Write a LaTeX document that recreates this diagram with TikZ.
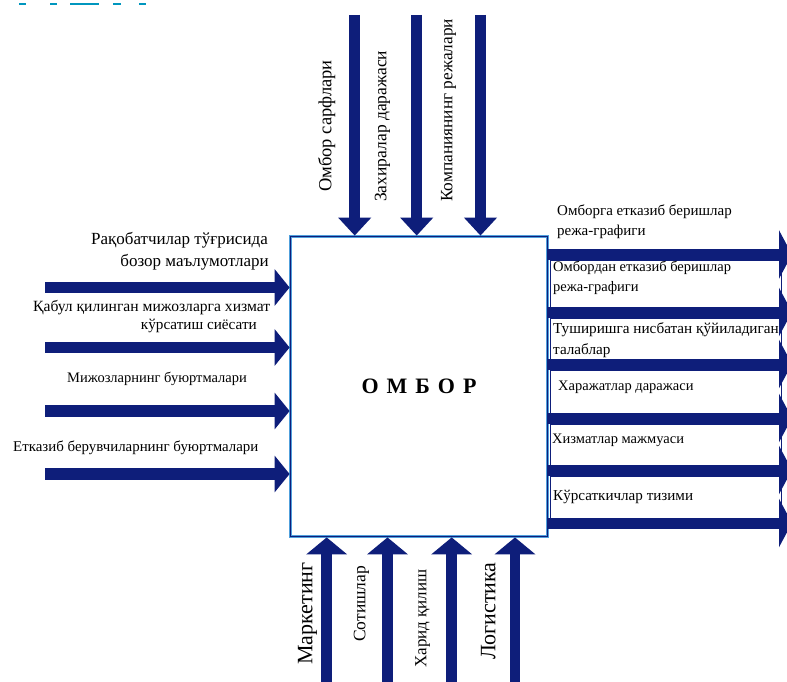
\documentclass[tikz,border=0pt]{standalone}
\usepackage{fontspec}
\setmainfont{Liberation Serif}
\usetikzlibrary{arrows.meta}
\definecolor{navyb}{RGB}{14,30,122}
\definecolor{halo}{RGB}{80,160,220}
\definecolor{cyanmark}{RGB}{0,150,190}
\tikzset{
  lbl/.style={inner sep=0pt, font=\fontsize{14.5}{17}\selectfont},
  fs/.style={font=\fontsize{#1}{17}\selectfont},
  vlbl/.style={inner sep=0pt, rotate=90, anchor=mid west},
  downarr/.style={line width=10.7pt, draw=navyb, -{Triangle[width=32pt,length=18pt]}},
  uparr/.style={line width=10.5pt, draw=navyb, -{Triangle[width=40pt,length=17pt]}},
  inarr/.style={line width=11.5pt, draw=navyb, -{Triangle[width=36pt,length=15pt]}},
  outarr/.style={line width=11pt, draw=navyb, -{Triangle[width=48pt,length=13pt]}},
  txtbox/.style={draw=navyb, line width=0.8pt, fill=white, inner sep=0pt, anchor=north west, minimum width=231pt},
}
\begin{document}
\begin{tikzpicture}[x=1pt,y=-1pt]
\useasboundingbox (0,0) rectangle (787,682);
\clip (0,0) rectangle (787,682);
\fill[white] (0,0) rectangle (787,682);

% cut-off marks at the top left
\fill[cyanmark] (19,3.3) rectangle (26,5);
\fill[cyanmark] (50,3.3) rectangle (57,5);
\fill[cyanmark] (70,3.3) rectangle (99,5);
\fill[cyanmark] (113,3.3) rectangle (121,5);
\fill[cyanmark] (139,3.3) rectangle (146,5);

% main box
\node[draw=navyb, line width=1.8pt, preaction={draw=halo, line width=3pt},
      minimum width=257pt, minimum height=300pt, inner sep=0pt,
      font=\bfseries\fontsize{22}{24}\selectfont] (omb) at (419,386.5)
      {О\hspace{8pt}М\hspace{8pt}Б\hspace{8pt}О\hspace{8pt}Р};

% top arrows
\coordinate (t1) at (354.7,15);
\coordinate (t2) at (416.7,15);
\coordinate (t3) at (480.5,15);
\draw[downarr] (t1) -- (t1 |- omb.north);
\draw[downarr] (t2) -- (t2 |- omb.north);
\draw[downarr] (t3) -- (t3 |- omb.north);
\node[vlbl, font=\fontsize{18.5}{20}\selectfont] (tl1) at (329,192) {Омбор сарфлари};
\node[vlbl, font=\fontsize{17.5}{20}\selectfont] (tl2) at (384,202) {Захиралар даражаси};
\node[vlbl, font=\fontsize{17.3}{20}\selectfont] (tl3) at (450,202) {Компаниянинг режалари};

% left arrows
\coordinate (i1) at (45,287.5);
\coordinate (i2) at (45,347.5);
\coordinate (i3) at (45,411);
\coordinate (i4) at (45,474);
\draw[inarr] (i1) -- (i1 -| omb.west);
\draw[inarr] (i2) -- (i2 -| omb.west);
\draw[inarr] (i3) -- (i3 -| omb.west);
\draw[inarr] (i4) -- (i4 -| omb.west);
\node[lbl, fs=17, anchor=mid east] (l1a) at (268,242) {Рақобатчилар тўғрисида};
\node[lbl, fs=17, anchor=mid east] (l1b) at (269,264) {бозор маълумотлари};
\node[lbl, fs=15.6, anchor=mid west] (l2a) at (33,309) {Қабул қилинган мижозларга хизмат};
\node[lbl, fs=15.2, anchor=mid east] (l2b) at (257,327) {кўрсатиш сиёсати};
\node[lbl, anchor=mid west] (l3) at (67,380) {Мижозларнинг буюртмалари};
\node[lbl, fs=14.9, anchor=mid west] (l4) at (13,449) {Етказиб берувчиларнинг буюртмалари};

% bottom arrows
\coordinate (u1) at (326.7,690);
\coordinate (u2) at (387.5,690);
\coordinate (u3) at (451.7,690);
\coordinate (u4) at (515,690);
\draw[uparr] (u1) -- (u1 |- omb.south);
\draw[uparr] (u2) -- (u2 |- omb.south);
\draw[uparr] (u3) -- (u3 |- omb.south);
\draw[uparr] (u4) -- (u4 |- omb.south);
\node[vlbl, font=\fontsize{22}{24}\selectfont] (bl1) at (310,665) {Маркетинг};
\node[vlbl, font=\fontsize{17.5}{20}\selectfont] (bl2) at (363,642) {Сотишлар};
\node[vlbl, font=\fontsize{17}{20}\selectfont] (bl3) at (424,668) {Харид қилиш};
\node[vlbl, font=\fontsize{22}{24}\selectfont] (bl4) at (493,660) {Логистика};

% right side: text boxes
\node[txtbox, minimum height=46.5pt] (b1) at (550,260) {};
\node[txtbox, minimum height=41pt] (b2) at (550,317.5) {};
\node[txtbox, minimum height=43pt] (b3) at (550,369.5) {};
\node[txtbox, minimum height=41pt] (b4) at (550,423.5) {};
\node[txtbox, minimum height=42pt] (b5) at (550,475.5) {};

% right arrows
\coordinate (r1) at (792,254.5);
\coordinate (r2) at (792,312);
\coordinate (r3) at (792,364);
\coordinate (r4) at (792,418);
\coordinate (r5) at (792,470);
\coordinate (r6) at (792,523);
\draw[outarr] (omb.east |- r1) -- (r1);
\draw[outarr] (omb.east |- r2) -- (r2);
\draw[outarr] (omb.east |- r3) -- (r3);
\draw[outarr] (omb.east |- r4) -- (r4);
\draw[outarr] (omb.east |- r5) -- (r5);
\draw[outarr] (omb.east |- r6) -- (r6);

% right labels
\node[lbl, fs=15, anchor=mid west] (o1a) at (557,213) {Омборга етказиб беришлар};
\node[lbl, fs=15, anchor=mid west] (o1b) at (557,233) {режа-графиги};
\node[lbl, fs=14.5, anchor=mid west] (o2a) at (553,269) {Омбордан етказиб беришлар};
\node[lbl, fs=14.5, anchor=mid west] (o2b) at (553,289) {режа-графиги};
\node[lbl, fs=15.2, anchor=mid west] (o3a) at (553,331.7) {Туширишга нисбатан қўйиладиган};
\node[lbl, fs=15.2, anchor=mid west] (o3b) at (553,352.7) {талаблар};
\node[lbl, anchor=mid west] (o4) at (558,388) {Харажатлар даражаси};
\node[lbl, anchor=mid west] (o5) at (552,441.7) {Хизматлар мажмуаси};
\node[lbl, fs=15.1, anchor=mid west] (o6) at (553,498) {Кўрсаткичлар тизими};
\end{tikzpicture}
\end{document}
